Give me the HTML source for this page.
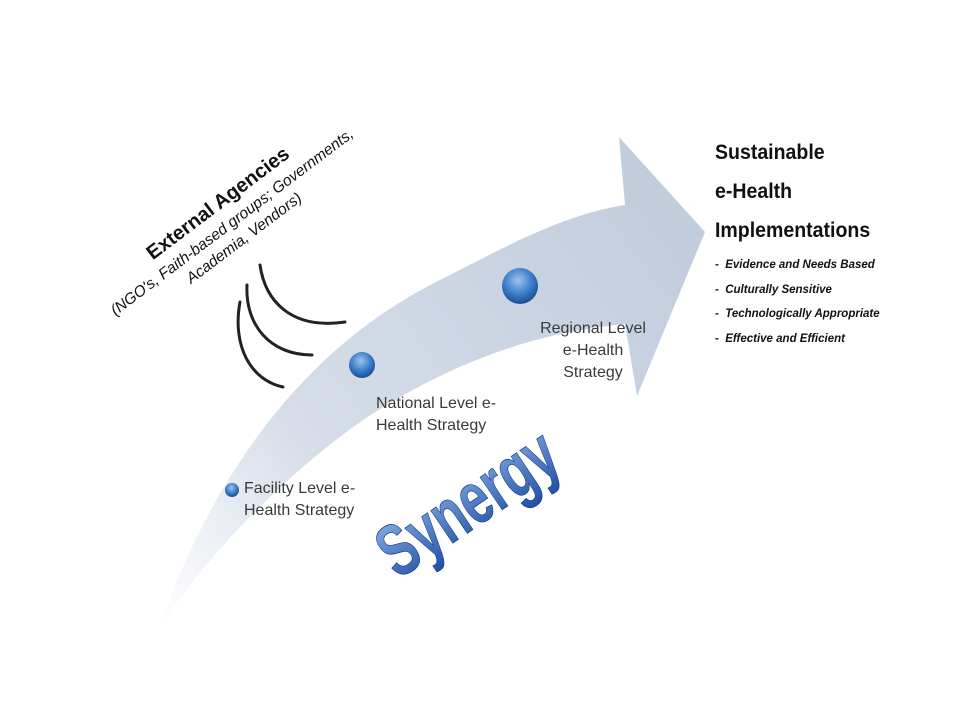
<!DOCTYPE html>
<html><head><meta charset="utf-8"><style>
html,body{margin:0;padding:0;background:#fff;}
body{width:960px;height:720px;position:relative;overflow:hidden;font-family:"Liberation Sans",sans-serif;}
.t{position:absolute;color:#3a3a3a;font-size:16px;line-height:22px;}
</style></head><body>
<svg width="960" height="720" style="position:absolute;left:0;top:0">
<defs>
<linearGradient id="ag" x1="157" y1="633" x2="700" y2="230" gradientUnits="userSpaceOnUse">
<stop offset="0" stop-color="#ffffff"/><stop offset="0.35" stop-color="#d6dde8"/><stop offset="1" stop-color="#c0cddd"/>
</linearGradient>
<radialGradient id="orb" cx="0.45" cy="0.35" r="0.65">
<stop offset="0" stop-color="#9cc4ee"/><stop offset="0.6" stop-color="#3a7bc8"/><stop offset="1" stop-color="#1d4f8f"/>
</radialGradient>
<linearGradient id="sg" x1="0" y1="0" x2="0" y2="1">
<stop offset="0" stop-color="#8fb4e8"/><stop offset="1" stop-color="#1f4fa5"/>
</linearGradient>
</defs>
<path d="M157,633 C210,480 300,350 438,281 C500,250 560,215 625,205 L619,137 L705,232 L637,396 L625,324 C560,330 470,350 366,418 C290,470 200,560 157,633 Z" fill="url(#ag)"/>
<g fill="none" stroke="#222" stroke-width="3" stroke-linecap="round">
<path d="M260,265 C265,300 290,330 345,322"/>
<path d="M247,285 C245,325 270,355 312,355"/>
<path d="M240,302 C232,345 250,380 283,387"/>
</g>
<circle cx="232" cy="490" r="7" fill="url(#orb)"/>
<circle cx="362" cy="365" r="13" fill="url(#orb)"/>
<circle cx="520" cy="286" r="18" fill="url(#orb)"/>
<g transform="translate(398,580) rotate(-34) scale(0.88,1.28)">
<text x="0" y="0" font-family="Liberation Sans,sans-serif" font-weight="bold" font-size="58" fill="url(#sg)" stroke="#1b3f80" stroke-width="0.6">Synergy</text>
</g>
<g transform="translate(238,230) rotate(-37)" font-family="Liberation Sans,sans-serif" text-anchor="middle" fill="#111">
<text x="0" y="-27" font-weight="bold" font-size="20">External Agencies</text>
<text x="0" y="-5" font-style="italic" font-size="15.5">(NGO's, Faith-based groups; Governments,</text>
<text x="0" y="15" font-style="italic" font-size="15.5">Academia, Vendors)</text>
</g>
</svg>
<div class="t" style="left:244px;top:478px;">Facility Level e-<br>Health Strategy</div>
<div class="t" style="left:376px;top:393px;">National Level e-<br>Health Strategy</div>
<div class="t" style="left:538px;top:318px;text-align:center;width:110px;">Regional Level<br>e-Health<br>Strategy</div>
<div style="position:absolute;left:715px;top:133px;font-size:21px;line-height:39px;font-weight:bold;color:#111;transform:scaleX(0.93);transform-origin:0 0;">Sustainable<br>e-Health<br>Implementations</div>
<div style="position:absolute;left:715px;top:253px;font-size:11.5px;line-height:24.5px;font-weight:bold;font-style:italic;color:#111;">-&nbsp; Evidence and Needs Based<br>-&nbsp; Culturally Sensitive<br>-&nbsp; Technologically Appropriate<br>-&nbsp; Effective and Efficient</div>
</body></html>
